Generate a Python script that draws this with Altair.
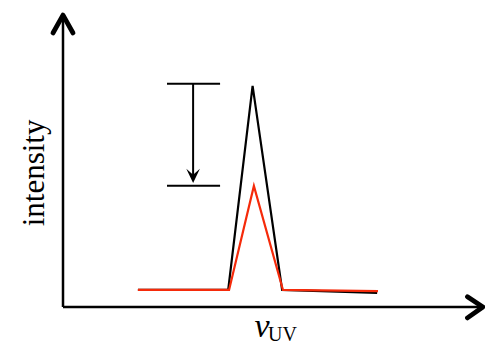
import altair as alt
import pandas as pd

# spectra (data units)
black_x = [1.75, 3.86, 4.43, 5.12, 7.34]
black_y = [0.58, 0.58, 7.52, 0.58, 0.48]
red_x = [1.75, 3.88, 4.46, 5.14, 7.36]
red_y = [0.58, 0.58, 4.12, 0.58, 0.54]

# annotation: intensity drop
bar_x = [2.43, 3.67]
bar_top = 7.59
bar_bottom = 4.12
drop_x = 3.04
drop_end = 4.35
head_y = 4.46

# axes with arrow heads
x_max = 9.86
axis_x_end = 9.81
axis_y_end = 9.93
ychev_x = [-0.234, 0.0, 0.234]
ychev_y = [9.32, 9.93, 9.32]
xchev_x = [9.45, 9.81, 9.45]
xchev_y = [0.35, 0.0, -0.37]

y_label = "intensity"
x_label_main = "ν"
x_label_sub = "UV"

xs = alt.Scale(domain=[0, x_max])
ys = alt.Scale(domain=[0, 10])

spec = pd.concat([
    pd.DataFrame({"x": black_x, "y": black_y, "s": "before", "o": range(len(black_x))}),
    pd.DataFrame({"x": red_x, "y": red_y, "s": "after", "o": range(len(red_x))}),
])

black = alt.Chart(spec[spec.s == "before"]).mark_line(color="black", strokeWidth=2.2).encode(
    x=alt.X("x:Q", scale=xs, axis=None), y=alt.Y("y:Q", scale=ys, axis=None), order="o:Q")
red = alt.Chart(spec[spec.s == "after"]).mark_line(color="#f52a0a", strokeWidth=2.2).encode(
    x=alt.X("x:Q", scale=xs, axis=None), y=alt.Y("y:Q", scale=ys, axis=None), order="o:Q")

axes_df = pd.DataFrame({"x": [0, 0], "y": [0, 0], "x2": [axis_x_end, 0], "y2": [0, axis_y_end]})
axes = alt.Chart(axes_df).mark_rule(color="black", strokeWidth=2.5).encode(
    x=alt.X("x:Q", scale=xs, axis=None), y=alt.Y("y:Q", scale=ys, axis=None), x2="x2", y2="y2")

chev_df = pd.concat([
    pd.DataFrame({"x": ychev_x, "y": ychev_y, "g": "y", "o": [0, 1, 2]}),
    pd.DataFrame({"x": xchev_x, "y": xchev_y, "g": "x", "o": [0, 1, 2]}),
])
chev = alt.Chart(chev_df).mark_line(color="black", strokeWidth=4.8, strokeCap="round", strokeJoin="round").encode(
    x=alt.X("x:Q", scale=xs, axis=None), y=alt.Y("y:Q", scale=ys, axis=None), detail="g:N", order="o:Q")

bars_df = pd.DataFrame({"x": [bar_x[0], bar_x[0]], "x2": [bar_x[1], bar_x[1]], "y": [bar_top, bar_bottom]})
bars = alt.Chart(bars_df).mark_rule(color="black", strokeWidth=2).encode(
    x=alt.X("x:Q", scale=xs, axis=None), x2="x2", y=alt.Y("y:Q", scale=ys, axis=None))

drop_df = pd.DataFrame({"x": [drop_x], "y": [bar_top], "y2": [drop_end]})
drop = alt.Chart(drop_df).mark_rule(color="black", strokeWidth=2).encode(
    x=alt.X("x:Q", scale=xs, axis=None), y=alt.Y("y:Q", scale=ys, axis=None), y2="y2")

head_df = pd.DataFrame({"x": [drop_x], "y": [head_y]})
head = alt.Chart(head_df).mark_point(
    shape="M-0.85,-0.9 L0,0.9 L0.85,-0.9 L0,-0.15 Z", filled=True, color="black", size=256, opacity=1).encode(
    x=alt.X("x:Q", scale=xs, axis=None), y=alt.Y("y:Q", scale=ys, axis=None))

ylab = alt.Chart(pd.DataFrame({"x": [-0.65], "y": [4.56], "t": [y_label]})).mark_text(
    angle=270, font="Liberation Serif", fontSize=31, color="black", baseline="middle", align="center").encode(
    x=alt.X("x:Q", scale=xs, axis=None), y=alt.Y("y:Q", scale=ys, axis=None), text="t:N")

xlab = alt.Chart(pd.DataFrame({"x": [4.65], "y": [-1.02], "t": [x_label_main]})).mark_text(
    font="Liberation Serif", fontStyle="italic", fontSize=34, color="black", baseline="alphabetic", align="center").encode(
    x=alt.X("x:Q", scale=xs, axis=None), y=alt.Y("y:Q", scale=ys, axis=None), text="t:N")

xsub = alt.Chart(pd.DataFrame({"x": [4.79], "y": [-1.17], "t": [x_label_sub]})).mark_text(
    font="Liberation Serif", fontSize=20, color="black", baseline="alphabetic", align="left").encode(
    x=alt.X("x:Q", scale=xs, axis=None), y=alt.Y("y:Q", scale=ys, axis=None), text="t:N")

chart = alt.layer(axes, chev, bars, drop, head, black, red, ylab, xlab, xsub).properties(
    width=422, height=294,
    padding={"left": 55, "top": 5, "right": 0, "bottom": 37},
    autosize=alt.AutoSizeParams(type="none"),
).configure_view(stroke=None)

chart.save("out.html", embed_options={"renderer": "svg", "actions": False})
